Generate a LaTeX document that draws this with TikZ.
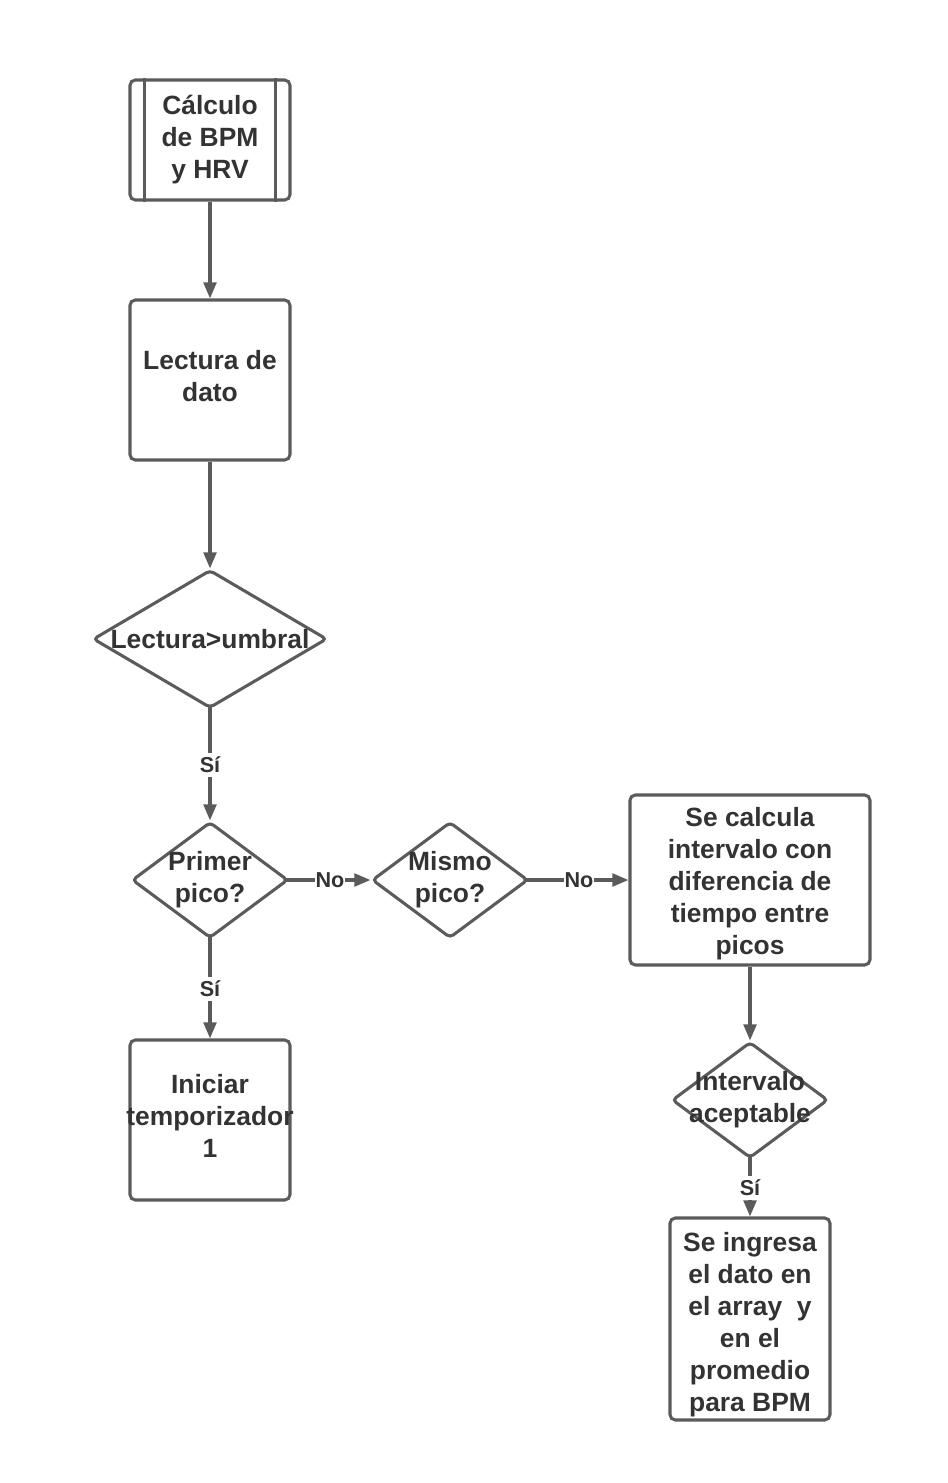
\documentclass[tikz,border=0pt]{standalone}
\usepackage{fontspec}
\setmainfont{Liberation Sans}
\usetikzlibrary{shapes.geometric,arrows.meta}
\definecolor{linecol}{HTML}{5B5B5B}
\definecolor{textcol}{HTML}{333333}
\tikzset{
  box/.style={draw=linecol, line width=2.3pt, rounded corners=4pt, rectangle, inner sep=0pt},
  dia/.style={draw=linecol, line width=2.3pt, rounded corners=3pt, diamond, inner sep=0pt, minimum width=117pt, minimum height=87pt},
  txt/.style={align=center, inner sep=0pt, text=textcol, font=\bfseries\fontsize{19.8pt}{24pt}\selectfont},
  elab/.style={fill=white, inner xsep=0.5pt, inner ysep=3pt, text=textcol, font=\bfseries\fontsize{16.2pt}{18pt}\selectfont},
  conn/.style={draw=linecol, line width=2.3pt, -{Triangle[length=12pt,width=9.5pt]}},
  fromdia/.style={shorten <=2.5pt},
  todia/.style={shorten >=1.5pt},
}
\begin{document}
\begin{tikzpicture}[x=0.75pt, y=-0.75pt]
\useasboundingbox (0,0) rectangle (947,1483);
% nodes
\node[box, minimum width=120pt, minimum height=90pt, label={[txt, yshift=0.5pt]center:Cálculo\\de BPM\\y HRV}] (sub) at (210,140) {};
\draw[linecol, line width=2.3pt] ([xshift=12pt]sub.north west) -- ([xshift=12pt]sub.south west);
\draw[linecol, line width=2.3pt] ([xshift=-12pt]sub.north east) -- ([xshift=-12pt]sub.south east);
\node[box, minimum width=120pt, minimum height=120pt, label={[txt, yshift=3pt]center:Lectura de\\dato}] (lect) at (210,380) {};
\node[dia, minimum width=175.5pt, minimum height=103.5pt, label={[txt]center:Lectura>umbral}] (d1) at (210,639) {};
\node[dia, label={[txt]center:Primer\\pico?}] (d2) at (210,880) {};
\node[dia, label={[txt]center:Mismo\\pico?}] (d3) at (450,880) {};
\node[box, minimum width=180pt, minimum height=127.5pt, label={[txt, yshift=-3pt]center:Se calcula\\intervalo con\\diferencia de\\tiempo entre\\picos}] (calc) at (750,880) {};
\node[dia, label={[txt]center:Intervalo\\aceptable}] (d4) at (750,1100) {};
\node[box, minimum width=120pt, minimum height=151.5pt, label={[txt, yshift=-4.5pt]center:Se ingresa\\el dato en\\el array\ \ y\\en el\\promedio\\para BPM}] (ing) at (750,1319) {};
\node[box, minimum width=120pt, minimum height=120pt, label={[txt, yshift=3pt]center:Iniciar\\temporizador\\1}] (ini) at (210,1120) {};
% connectors
\draw[conn] (sub) -- (lect);
\draw[conn] (lect) -- (d1);
\draw[conn, shorten <=-2.5pt] (d1) -- node[elab] {Sí} (d2);
\draw[conn, shorten <=-2.5pt] (d2) -- node[elab] {No} (d3);
\draw[conn, shorten <=-2.5pt] (d3) -- node[elab] {No} (calc);
\draw[conn] (calc) -- (d4);
\draw[conn, shorten <=-2.5pt] (d4) -- node[elab] {Sí} (ing);
\draw[conn, shorten <=-2.5pt] (d2) -- node[elab] {Sí} (ini);
\end{tikzpicture}
\end{document}
